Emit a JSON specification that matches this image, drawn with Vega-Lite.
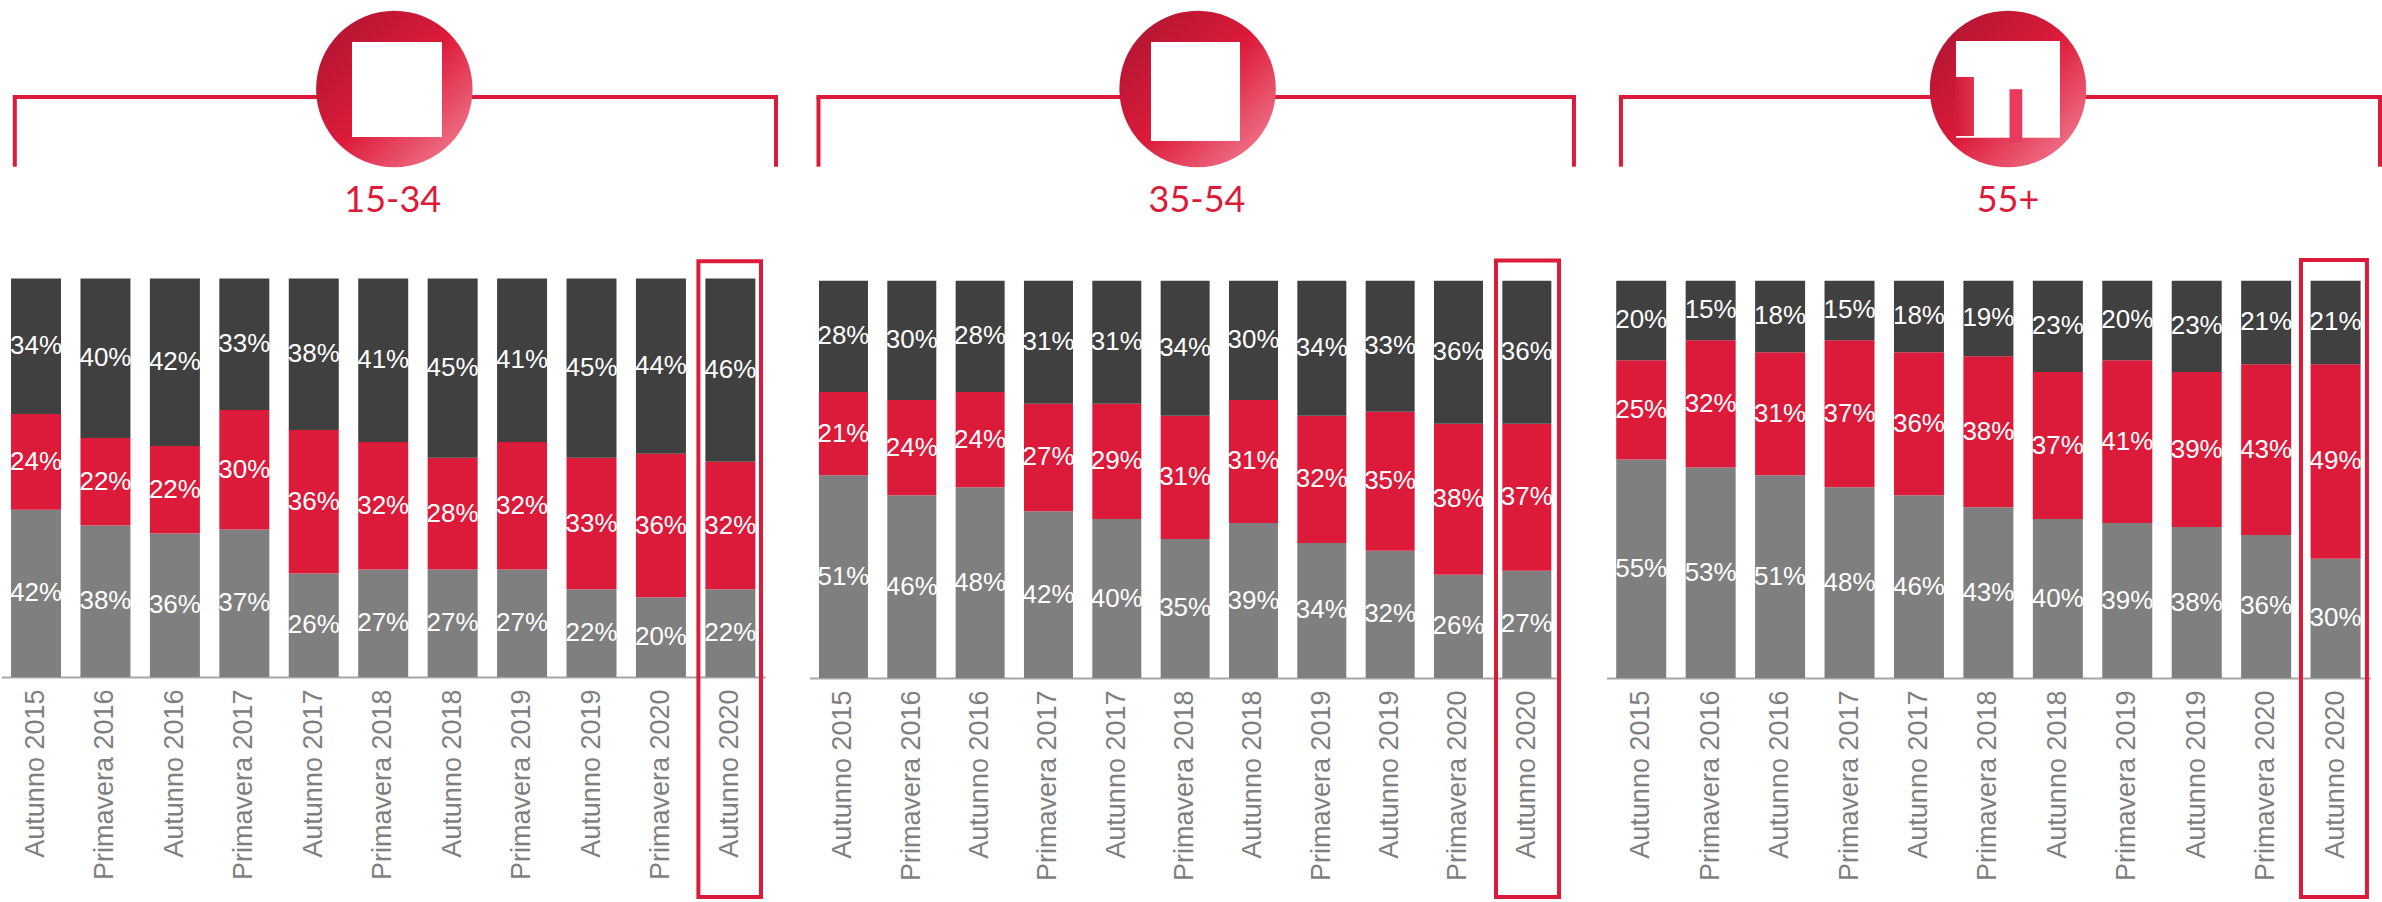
{"$schema":"https://vega.github.io/schema/vega-lite/v6.json","background":"white","padding":0,"spacing":0,"bounds":"flush","config":{"view":{"stroke":null},"axisX":{"title":null,"ticks":false,"grid":false,"labelColor":"#7f7f7f","labelFont":"Liberation Sans","labelFontSize":27,"labelPadding":12,"labelAngle":-90,"labelOverlap":false,"labelLimit":400,"domainColor":"#a6a6a6","domainWidth":2,"zindex":1},"text":{"font":"Liberation Sans"}},
"data":{"values":[
{"fascia":"15-34","periodo":"Autunno 2015","serie":"1","valore":0.42},{"fascia":"15-34","periodo":"Autunno 2015","serie":"2","valore":0.24},{"fascia":"15-34","periodo":"Autunno 2015","serie":"3","valore":0.34},
{"fascia":"15-34","periodo":"Primavera 2016","serie":"1","valore":0.38},{"fascia":"15-34","periodo":"Primavera 2016","serie":"2","valore":0.22},{"fascia":"15-34","periodo":"Primavera 2016","serie":"3","valore":0.40},
{"fascia":"15-34","periodo":"Autunno 2016","serie":"1","valore":0.36},{"fascia":"15-34","periodo":"Autunno 2016","serie":"2","valore":0.22},{"fascia":"15-34","periodo":"Autunno 2016","serie":"3","valore":0.42},
{"fascia":"15-34","periodo":"Primavera 2017","serie":"1","valore":0.37},{"fascia":"15-34","periodo":"Primavera 2017","serie":"2","valore":0.30},{"fascia":"15-34","periodo":"Primavera 2017","serie":"3","valore":0.33},
{"fascia":"15-34","periodo":"Autunno 2017","serie":"1","valore":0.26},{"fascia":"15-34","periodo":"Autunno 2017","serie":"2","valore":0.36},{"fascia":"15-34","periodo":"Autunno 2017","serie":"3","valore":0.38},
{"fascia":"15-34","periodo":"Primavera 2018","serie":"1","valore":0.27},{"fascia":"15-34","periodo":"Primavera 2018","serie":"2","valore":0.32},{"fascia":"15-34","periodo":"Primavera 2018","serie":"3","valore":0.41},
{"fascia":"15-34","periodo":"Autunno 2018","serie":"1","valore":0.27},{"fascia":"15-34","periodo":"Autunno 2018","serie":"2","valore":0.28},{"fascia":"15-34","periodo":"Autunno 2018","serie":"3","valore":0.45},
{"fascia":"15-34","periodo":"Primavera 2019","serie":"1","valore":0.27},{"fascia":"15-34","periodo":"Primavera 2019","serie":"2","valore":0.32},{"fascia":"15-34","periodo":"Primavera 2019","serie":"3","valore":0.41},
{"fascia":"15-34","periodo":"Autunno 2019","serie":"1","valore":0.22},{"fascia":"15-34","periodo":"Autunno 2019","serie":"2","valore":0.33},{"fascia":"15-34","periodo":"Autunno 2019","serie":"3","valore":0.45},
{"fascia":"15-34","periodo":"Primavera 2020","serie":"1","valore":0.20},{"fascia":"15-34","periodo":"Primavera 2020","serie":"2","valore":0.36},{"fascia":"15-34","periodo":"Primavera 2020","serie":"3","valore":0.44},
{"fascia":"15-34","periodo":"Autunno 2020","serie":"1","valore":0.22},{"fascia":"15-34","periodo":"Autunno 2020","serie":"2","valore":0.32},{"fascia":"15-34","periodo":"Autunno 2020","serie":"3","valore":0.46},
{"fascia":"35-54","periodo":"Autunno 2015","serie":"1","valore":0.51},{"fascia":"35-54","periodo":"Autunno 2015","serie":"2","valore":0.21},{"fascia":"35-54","periodo":"Autunno 2015","serie":"3","valore":0.28},
{"fascia":"35-54","periodo":"Primavera 2016","serie":"1","valore":0.46},{"fascia":"35-54","periodo":"Primavera 2016","serie":"2","valore":0.24},{"fascia":"35-54","periodo":"Primavera 2016","serie":"3","valore":0.30},
{"fascia":"35-54","periodo":"Autunno 2016","serie":"1","valore":0.48},{"fascia":"35-54","periodo":"Autunno 2016","serie":"2","valore":0.24},{"fascia":"35-54","periodo":"Autunno 2016","serie":"3","valore":0.28},
{"fascia":"35-54","periodo":"Primavera 2017","serie":"1","valore":0.42},{"fascia":"35-54","periodo":"Primavera 2017","serie":"2","valore":0.27},{"fascia":"35-54","periodo":"Primavera 2017","serie":"3","valore":0.31},
{"fascia":"35-54","periodo":"Autunno 2017","serie":"1","valore":0.40},{"fascia":"35-54","periodo":"Autunno 2017","serie":"2","valore":0.29},{"fascia":"35-54","periodo":"Autunno 2017","serie":"3","valore":0.31},
{"fascia":"35-54","periodo":"Primavera 2018","serie":"1","valore":0.35},{"fascia":"35-54","periodo":"Primavera 2018","serie":"2","valore":0.31},{"fascia":"35-54","periodo":"Primavera 2018","serie":"3","valore":0.34},
{"fascia":"35-54","periodo":"Autunno 2018","serie":"1","valore":0.39},{"fascia":"35-54","periodo":"Autunno 2018","serie":"2","valore":0.31},{"fascia":"35-54","periodo":"Autunno 2018","serie":"3","valore":0.30},
{"fascia":"35-54","periodo":"Primavera 2019","serie":"1","valore":0.34},{"fascia":"35-54","periodo":"Primavera 2019","serie":"2","valore":0.32},{"fascia":"35-54","periodo":"Primavera 2019","serie":"3","valore":0.34},
{"fascia":"35-54","periodo":"Autunno 2019","serie":"1","valore":0.32},{"fascia":"35-54","periodo":"Autunno 2019","serie":"2","valore":0.35},{"fascia":"35-54","periodo":"Autunno 2019","serie":"3","valore":0.33},
{"fascia":"35-54","periodo":"Primavera 2020","serie":"1","valore":0.26},{"fascia":"35-54","periodo":"Primavera 2020","serie":"2","valore":0.38},{"fascia":"35-54","periodo":"Primavera 2020","serie":"3","valore":0.36},
{"fascia":"35-54","periodo":"Autunno 2020","serie":"1","valore":0.27},{"fascia":"35-54","periodo":"Autunno 2020","serie":"2","valore":0.37},{"fascia":"35-54","periodo":"Autunno 2020","serie":"3","valore":0.36},
{"fascia":"55+","periodo":"Autunno 2015","serie":"1","valore":0.55},{"fascia":"55+","periodo":"Autunno 2015","serie":"2","valore":0.25},{"fascia":"55+","periodo":"Autunno 2015","serie":"3","valore":0.20},
{"fascia":"55+","periodo":"Primavera 2016","serie":"1","valore":0.53},{"fascia":"55+","periodo":"Primavera 2016","serie":"2","valore":0.32},{"fascia":"55+","periodo":"Primavera 2016","serie":"3","valore":0.15},
{"fascia":"55+","periodo":"Autunno 2016","serie":"1","valore":0.51},{"fascia":"55+","periodo":"Autunno 2016","serie":"2","valore":0.31},{"fascia":"55+","periodo":"Autunno 2016","serie":"3","valore":0.18},
{"fascia":"55+","periodo":"Primavera 2017","serie":"1","valore":0.48},{"fascia":"55+","periodo":"Primavera 2017","serie":"2","valore":0.37},{"fascia":"55+","periodo":"Primavera 2017","serie":"3","valore":0.15},
{"fascia":"55+","periodo":"Autunno 2017","serie":"1","valore":0.46},{"fascia":"55+","periodo":"Autunno 2017","serie":"2","valore":0.36},{"fascia":"55+","periodo":"Autunno 2017","serie":"3","valore":0.18},
{"fascia":"55+","periodo":"Primavera 2018","serie":"1","valore":0.43},{"fascia":"55+","periodo":"Primavera 2018","serie":"2","valore":0.38},{"fascia":"55+","periodo":"Primavera 2018","serie":"3","valore":0.19},
{"fascia":"55+","periodo":"Autunno 2018","serie":"1","valore":0.40},{"fascia":"55+","periodo":"Autunno 2018","serie":"2","valore":0.37},{"fascia":"55+","periodo":"Autunno 2018","serie":"3","valore":0.23},
{"fascia":"55+","periodo":"Primavera 2019","serie":"1","valore":0.39},{"fascia":"55+","periodo":"Primavera 2019","serie":"2","valore":0.41},{"fascia":"55+","periodo":"Primavera 2019","serie":"3","valore":0.20},
{"fascia":"55+","periodo":"Autunno 2019","serie":"1","valore":0.38},{"fascia":"55+","periodo":"Autunno 2019","serie":"2","valore":0.39},{"fascia":"55+","periodo":"Autunno 2019","serie":"3","valore":0.23},
{"fascia":"55+","periodo":"Primavera 2020","serie":"1","valore":0.36},{"fascia":"55+","periodo":"Primavera 2020","serie":"2","valore":0.43},{"fascia":"55+","periodo":"Primavera 2020","serie":"3","valore":0.21},
{"fascia":"55+","periodo":"Autunno 2020","serie":"1","valore":0.30},{"fascia":"55+","periodo":"Autunno 2020","serie":"2","valore":0.49},{"fascia":"55+","periodo":"Autunno 2020","serie":"3","valore":0.21}
]},
"hconcat":[
{"width":800,"height":902,"resolve":{"scale":{"x":"independent"}},"layer":[
 {"transform":[{"filter":"datum.fascia==='15-34'"}],
  "encoding":{"x":{"field":"periodo","type":"nominal","sort":null,"scale":{"range":[1.3,765.1],"paddingInner":0.28,"paddingOuter":0.14},"axis":{"offset":-225}},"order":{"field":"serie","sort":"ascending"}},
  "layer":[
   {"mark":{"type":"bar"},"encoding":{"y":{"field":"valore","type":"quantitative","stack":"zero","axis":null,"scale":{"domain":[-0.5646,1.6989],"nice":false,"zero":false}},"color":{"field":"serie","type":"nominal","legend":null,"scale":{"domain":["1","2","3"],"range":["#7f7f7f","#dc1a3a","#404040"]}}}},
   {"mark":{"type":"text","color":"white","fontSize":26,"font":"Liberation Sans"},"encoding":{"y":{"field":"valore","type":"quantitative","stack":"zero","bandPosition":0.5},"text":{"field":"valore","type":"quantitative","format":".0%"}}}
  ]},
 {"data":{"values":[{}]},"layer":[
  {"mark":{"type":"rule","color":"#dc1a3a","strokeWidth":4,"strokeCap":"square"},"encoding":{"x":{"datum":1.85,"type":"quantitative","axis":null,"scale":{"domain":[0,100],"nice":false,"zero":false}},"x2":{"datum":97},"y":{"datum":1.4555,"type":"quantitative"}}},
  {"mark":{"type":"rule","color":"#dc1a3a","strokeWidth":4},"encoding":{"x":{"datum":1.85,"type":"quantitative"},"y":{"datum":1.4555,"type":"quantitative"},"y2":{"datum":1.2805}}},
  {"mark":{"type":"rule","color":"#dc1a3a","strokeWidth":4},"encoding":{"x":{"datum":97,"type":"quantitative"},"y":{"datum":1.4555,"type":"quantitative"},"y2":{"datum":1.2805}}},
  {"mark":{"type":"point","filled":true,"opacity":1,"size":24492,"fill":{"gradient":"linear","x1":0,"y1":0,"x2":1,"y2":1,"stops":[{"offset":0,"color":"#a81530"},{"offset":0.5,"color":"#dc1a3a"},{"offset":1,"color":"#f58a9e"}]}},"encoding":{"x":{"datum":49.29,"type":"quantitative"},"y":{"datum":1.4756,"type":"quantitative"}}},
  {"mark":{"type":"rect","color":"white"},"encoding":{"x":{"datum":44,"type":"quantitative"},"x2":{"datum":55.25},"y":{"datum":1.5935,"type":"quantitative"},"y2":{"datum":1.3551}}},
  {"mark":{"type":"text","text":"15-34","color":"#dc1a3a","font":"Lato","fontWeight":400,"fontSize":36},"encoding":{"x":{"datum":49.1,"type":"quantitative"},"y":{"datum":1.194,"type":"quantitative"}}},
  {"mark":{"type":"rect","fillOpacity":0,"fill":"white","stroke":"#dc1a3a","strokeWidth":4},"encoding":{"x":{"datum":87.3,"type":"quantitative"},"x2":{"datum":95.125},"y":{"datum":1.043,"type":"quantitative"},"y2":{"datum":-0.552}}}
 ]}
]},
{"width":790,"height":902,"resolve":{"scale":{"x":"independent"}},"layer":[
 {"transform":[{"filter":"datum.fascia==='35-54'"}],
  "encoding":{"x":{"field":"periodo","type":"nominal","sort":null,"scale":{"range":[9.4,760.9],"paddingInner":0.283,"paddingOuter":0.14},"axis":{"offset":-224}},"order":{"field":"serie","sort":"ascending"}},
  "layer":[
   {"mark":{"type":"bar"},"encoding":{"y":{"field":"valore","type":"quantitative","stack":"zero","axis":null,"scale":{"domain":[-0.5638,1.7065],"nice":false,"zero":false}},"color":{"field":"serie","type":"nominal","legend":null,"scale":{"domain":["1","2","3"],"range":["#7f7f7f","#dc1a3a","#404040"]}}}},
   {"mark":{"type":"text","color":"white","fontSize":26,"font":"Liberation Sans"},"encoding":{"y":{"field":"valore","type":"quantitative","stack":"zero","bandPosition":0.5},"text":{"field":"valore","type":"quantitative","format":".0%"}}}
  ]},
 {"data":{"values":[{}]},"layer":[
  {"mark":{"type":"rule","color":"#dc1a3a","strokeWidth":4,"strokeCap":"square"},"encoding":{"x":{"datum":2.34,"type":"quantitative","axis":null,"scale":{"domain":[0,100],"nice":false,"zero":false}},"x2":{"datum":97.97},"y":{"datum":1.4624,"type":"quantitative"}}},
  {"mark":{"type":"rule","color":"#dc1a3a","strokeWidth":4},"encoding":{"x":{"datum":2.34,"type":"quantitative"},"y":{"datum":1.4624,"type":"quantitative"},"y2":{"datum":1.287}}},
  {"mark":{"type":"rule","color":"#dc1a3a","strokeWidth":4},"encoding":{"x":{"datum":97.97,"type":"quantitative"},"y":{"datum":1.4624,"type":"quantitative"},"y2":{"datum":1.287}}},
  {"mark":{"type":"point","filled":true,"opacity":1,"size":24492,"fill":{"gradient":"linear","x1":0,"y1":0,"x2":1,"y2":1,"stops":[{"offset":0,"color":"#a81530"},{"offset":0.5,"color":"#dc1a3a"},{"offset":1,"color":"#f58a9e"}]}},"encoding":{"x":{"datum":50.33,"type":"quantitative"},"y":{"datum":1.4825,"type":"quantitative"}}},
  {"mark":{"type":"rect","color":"white"},"encoding":{"x":{"datum":44.43,"type":"quantitative"},"x2":{"datum":55.7},"y":{"datum":1.6008,"type":"quantitative"},"y2":{"datum":1.3516}}},
  {"mark":{"type":"text","text":"35-54","color":"#dc1a3a","font":"Lato","fontWeight":400,"fontSize":36},"encoding":{"x":{"datum":50.25,"type":"quantitative"},"y":{"datum":1.2,"type":"quantitative"}}},
  {"mark":{"type":"rect","fillOpacity":0,"fill":"white","stroke":"#dc1a3a","strokeWidth":4},"encoding":{"x":{"datum":88.1,"type":"quantitative"},"x2":{"datum":96.08},"y":{"datum":1.051,"type":"quantitative"},"y2":{"datum":-0.5512}}}
 ]}
]},
{"width":792,"height":902,"resolve":{"scale":{"x":"independent"}},"layer":[
 {"transform":[{"filter":"datum.fascia==='55+'"}],
  "encoding":{"x":{"field":"periodo","type":"nominal","sort":null,"scale":{"range":[16.5,780.3],"paddingInner":0.28,"paddingOuter":0.14},"axis":{"offset":-224}},"order":{"field":"serie","sort":"ascending"}},
  "layer":[
   {"mark":{"type":"bar"},"encoding":{"y":{"field":"valore","type":"quantitative","stack":"zero","axis":null,"scale":{"domain":[-0.5638,1.7065],"nice":false,"zero":false}},"color":{"field":"serie","type":"nominal","legend":null,"scale":{"domain":["1","2","3"],"range":["#7f7f7f","#dc1a3a","#404040"]}}}},
   {"mark":{"type":"text","color":"white","fontSize":26,"font":"Liberation Sans"},"encoding":{"y":{"field":"valore","type":"quantitative","stack":"zero","bandPosition":0.5},"text":{"field":"valore","type":"quantitative","format":".0%"}}}
  ]},
 {"data":{"values":[{}]},"layer":[
  {"mark":{"type":"rule","color":"#dc1a3a","strokeWidth":4,"strokeCap":"square"},"encoding":{"x":{"datum":3.91,"type":"quantitative","axis":null,"scale":{"domain":[0,100],"nice":false,"zero":false}},"x2":{"datum":99.75},"y":{"datum":1.4624,"type":"quantitative"}}},
  {"mark":{"type":"rule","color":"#dc1a3a","strokeWidth":4},"encoding":{"x":{"datum":3.91,"type":"quantitative"},"y":{"datum":1.4624,"type":"quantitative"},"y2":{"datum":1.287}}},
  {"mark":{"type":"rule","color":"#dc1a3a","strokeWidth":4},"encoding":{"x":{"datum":99.75,"type":"quantitative"},"y":{"datum":1.4624,"type":"quantitative"},"y2":{"datum":1.287}}},
  {"mark":{"type":"point","filled":true,"opacity":1,"size":24492,"fill":{"gradient":"linear","x1":0,"y1":0,"x2":1,"y2":1,"stops":[{"offset":0,"color":"#a81530"},{"offset":0.5,"color":"#dc1a3a"},{"offset":1,"color":"#f58a9e"}]}},"encoding":{"x":{"datum":52.78,"type":"quantitative"},"y":{"datum":1.4825,"type":"quantitative"}}},
  {"mark":{"type":"rect","color":"white"},"encoding":{"x":{"datum":46.21,"type":"quantitative"},"x2":{"datum":59.34},"y":{"datum":1.6033,"type":"quantitative"},"y2":{"datum":1.36}}},
  {"mark":{"type":"rect","fill":{"gradient":"linear","x1":0,"y1":0,"x2":1,"y2":0,"stops":[{"offset":0,"color":"#d21b39"},{"offset":1,"color":"#e23150"}]}},"encoding":{"x":{"datum":46.21,"type":"quantitative"},"x2":{"datum":48.48},"y":{"datum":1.5127,"type":"quantitative"},"y2":{"datum":1.364}}},
  {"mark":{"type":"rect","color":"#e83a5a"},"encoding":{"x":{"datum":52.97,"type":"quantitative"},"x2":{"datum":54.58},"y":{"datum":1.482,"type":"quantitative"},"y2":{"datum":1.349}}},
  {"mark":{"type":"text","text":"55+","color":"#dc1a3a","font":"Lato","fontWeight":400,"fontSize":36},"encoding":{"x":{"datum":52.78,"type":"quantitative"},"y":{"datum":1.2,"type":"quantitative"}}},
  {"mark":{"type":"rect","fillOpacity":0,"fill":"white","stroke":"#dc1a3a","strokeWidth":4},"encoding":{"x":{"datum":89.77,"type":"quantitative"},"x2":{"datum":98.1},"y":{"datum":1.052,"type":"quantitative"},"y2":{"datum":-0.5512}}}
 ]}
]}
]}
